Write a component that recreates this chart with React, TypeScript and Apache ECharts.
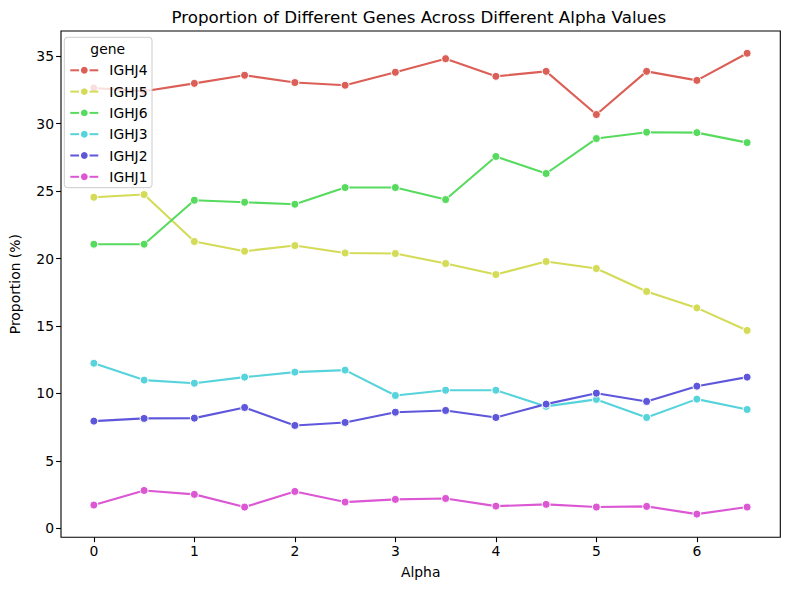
import React, { useEffect, useRef } from "react";
import * as echarts from "echarts";

const alpha = [0, 0.5, 1, 1.5, 2, 2.5, 3, 3.5, 4, 4.5, 5, 5.5, 6, 6.5];
const genes = ["IGHJ4", "IGHJ5", "IGHJ6", "IGHJ3", "IGHJ2", "IGHJ1"];
const colors = ["#db5f57", "#d3db57", "#57db5f", "#57d3db", "#5f57db", "#db57d3"];
const ighj4 = [32.64, 32.39, 32.98, 33.58, 33.04, 32.84, 33.8, 34.81, 33.5, 33.87, 30.67, 33.87, 33.2, 35.21];
const ighj5 = [24.54, 24.74, 21.26, 20.54, 20.96, 20.41, 20.37, 19.63, 18.81, 19.78, 19.26, 17.56, 16.34, 14.67];
const ighj6 = [21.06, 21.06, 24.32, 24.17, 24.02, 25.26, 25.26, 24.37, 27.56, 26.3, 28.89, 29.36, 29.33, 28.59];
const ighj3 = [12.24, 10.99, 10.76, 11.21, 11.58, 11.73, 9.85, 10.24, 10.24, 9.04, 9.56, 8.22, 9.58, 8.81];
const ighj2 = [7.95, 8.15, 8.17, 8.96, 7.63, 7.85, 8.61, 8.74, 8.22, 9.21, 10.02, 9.41, 10.54, 11.21];
const ighj1 = [1.73, 2.81, 2.52, 1.58, 2.74, 1.95, 2.15, 2.22, 1.65, 1.78, 1.58, 1.63, 1.06, 1.58];
const seriesValues = [ighj4, ighj5, ighj6, ighj3, ighj2, ighj1];
const xTicks = [0, 1, 2, 3, 4, 5, 6];
const yTicks = [0, 5, 10, 15, 20, 25, 30, 35];

const FONT = "DejaVu Sans";

export default function App() {
  const ref = useRef<HTMLDivElement>(null);
  useEffect(() => {
    if (!ref.current) return;
    const chart = echarts.init(ref.current, null, { renderer: "svg" });
    const series = genes.map((g, i) => ({
      name: g,
      type: "line",
      data: alpha.map((a, j) => [a, seriesValues[i][j]]),
      symbol: "circle",
      symbolSize: 8,
      showSymbol: true,
      lineStyle: { width: 2.1, color: colors[i] },
      itemStyle: { color: colors[i], borderColor: "#ffffff", borderWidth: 1 },
      z: 2,
    }));
    chart.setOption({
      animation: false,
      color: colors,
      grid: {
        left: 57.3,
        right: 9.7,
        top: 31,
        bottom: 52.7,
        show: true,
        borderColor: "#000",
        borderWidth: 1.1,
        containLabel: false,
      },
      xAxis: {
        type: "value",
        min: -0.327,
        max: 6.83,
        name: "Alpha",
        nameLocation: "middle",
        nameGap: 28,
        nameTextStyle: { fontFamily: FONT, fontSize: 13.9, color: "#000" },
        axisLine: { show: false, onZero: false },
        splitLine: { show: false },
        axisTick: { show: true, inside: false, customValues: xTicks, length: 4.9, lineStyle: { color: "#000", width: 1.1 } },
        axisLabel: { customValues: xTicks, margin: 7, fontFamily: FONT, fontSize: 13.9, color: "#000" },
      },
      yAxis: {
        type: "value",
        min: -0.66,
        max: 36.86,
        name: "Proportion (%)",
        nameLocation: "middle",
        nameGap: 39,
        nameRotate: 90,
        nameTextStyle: { fontFamily: FONT, fontSize: 13.9, color: "#000" },
        axisLine: { show: false, onZero: false },
        splitLine: { show: false },
        axisTick: { show: true, inside: false, customValues: yTicks, length: 4.9, lineStyle: { color: "#000", width: 1.1 } },
        axisLabel: { customValues: yTicks, margin: 7, fontFamily: FONT, fontSize: 13.9, color: "#000" },
      },
      legend: {
        data: genes,
        orient: "vertical",
        left: 69.3,
        top: 61.8,
        itemWidth: 28,
        itemHeight: 11,
        itemGap: 4.3,
        padding: 0,
        z: 20,
        textStyle: { fontFamily: FONT, fontSize: 13.9, color: "#000", lineHeight: 17, padding: [0, 0, 0, 6] },
      },
      graphic: [
        {
          type: "rect",
          z: 10,
          shape: { x: 64.3, y: 37.3, width: 87.7, height: 150.4, r: 3 },
          style: { fill: "rgba(255,255,255,0.8)", stroke: "#cccccc", lineWidth: 1 },
        },
        {
          type: "text",
          z: 20,
          x: 107.7,
          y: 49.3,
          style: {
            text: "gene",
            align: "center",
            verticalAlign: "middle",
            textAlign: "center",
            textVerticalAlign: "middle",
            font: `13.9px "${FONT}"`,
            fill: "#000",
          },
        },
        {
          type: "text",
          z: 20,
          x: 418.8,
          y: 17,
          style: {
            text: "Proportion of Different Genes Across Different Alpha Values",
            align: "center",
            verticalAlign: "middle",
            textAlign: "center",
            textVerticalAlign: "middle",
            font: `16.7px "${FONT}"`,
            fill: "#000",
          },
        },
      ],
      series,
    });
    return () => chart.dispose();
  }, []);
  return (
    <div
      ref={ref}
      style={{ position: "fixed", left: 0, top: 0, width: 790, height: 590, background: "#fff" }}
    />
  );
}
